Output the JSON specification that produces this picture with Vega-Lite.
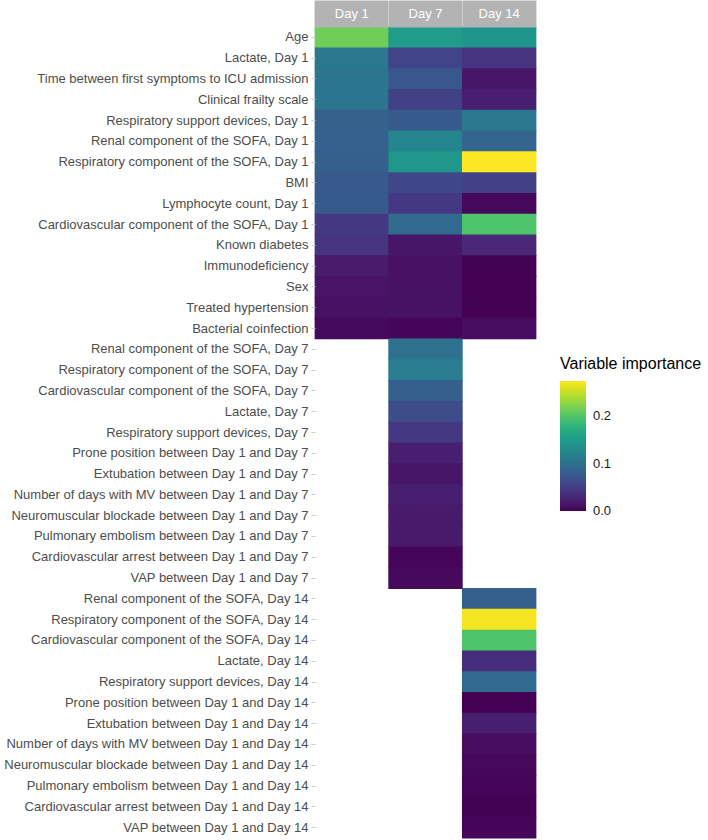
{
  "$schema": "https://vega.github.io/schema/vega-lite/v6.json",
  "width": 221,
  "height": 811,
  "autosize": {"type": "none"},
  "padding": {"left": 315, "top": 27, "right": 172, "bottom": 2},
  "config": {
    "view": {"stroke": null},
    "font": "Liberation Sans"
  },
  "data": {
    "values": [
      {"variable": "Age", "day": "Day 1", "importance": 0.215},
      {"variable": "Lactate, Day 1", "day": "Day 1", "importance": 0.11},
      {"variable": "Time between first symptoms to ICU admission", "day": "Day 1", "importance": 0.107},
      {"variable": "Clinical frailty scale", "day": "Day 1", "importance": 0.106},
      {"variable": "Respiratory support devices, Day 1", "day": "Day 1", "importance": 0.085},
      {"variable": "Renal component of the SOFA, Day 1", "day": "Day 1", "importance": 0.084},
      {"variable": "Respiratory component of the SOFA, Day 1", "day": "Day 1", "importance": 0.083},
      {"variable": "BMI", "day": "Day 1", "importance": 0.076},
      {"variable": "Lymphocyte count, Day 1", "day": "Day 1", "importance": 0.077},
      {"variable": "Cardiovascular component of the SOFA, Day 1", "day": "Day 1", "importance": 0.044},
      {"variable": "Known diabetes", "day": "Day 1", "importance": 0.041},
      {"variable": "Immunodeficiency", "day": "Day 1", "importance": 0.019},
      {"variable": "Sex", "day": "Day 1", "importance": 0.014},
      {"variable": "Treated hypertension", "day": "Day 1", "importance": 0.011},
      {"variable": "Bacterial coinfection", "day": "Day 1", "importance": 0.006},
      {"variable": "Age", "day": "Day 7", "importance": 0.151},
      {"variable": "Lactate, Day 1", "day": "Day 7", "importance": 0.055},
      {"variable": "Time between first symptoms to ICU admission", "day": "Day 7", "importance": 0.074},
      {"variable": "Clinical frailty scale", "day": "Day 7", "importance": 0.052},
      {"variable": "Respiratory support devices, Day 1", "day": "Day 7", "importance": 0.077},
      {"variable": "Renal component of the SOFA, Day 1", "day": "Day 7", "importance": 0.124},
      {"variable": "Respiratory component of the SOFA, Day 1", "day": "Day 7", "importance": 0.146},
      {"variable": "BMI", "day": "Day 7", "importance": 0.058},
      {"variable": "Lymphocyte count, Day 1", "day": "Day 7", "importance": 0.044},
      {"variable": "Cardiovascular component of the SOFA, Day 1", "day": "Day 7", "importance": 0.094},
      {"variable": "Known diabetes", "day": "Day 7", "importance": 0.015},
      {"variable": "Immunodeficiency", "day": "Day 7", "importance": 0.011},
      {"variable": "Sex", "day": "Day 7", "importance": 0.012},
      {"variable": "Treated hypertension", "day": "Day 7", "importance": 0.012},
      {"variable": "Bacterial coinfection", "day": "Day 7", "importance": 0.003},
      {"variable": "Age", "day": "Day 14", "importance": 0.143},
      {"variable": "Lactate, Day 1", "day": "Day 14", "importance": 0.041},
      {"variable": "Time between first symptoms to ICU admission", "day": "Day 14", "importance": 0.015},
      {"variable": "Clinical frailty scale", "day": "Day 14", "importance": 0.022},
      {"variable": "Respiratory support devices, Day 1", "day": "Day 14", "importance": 0.11},
      {"variable": "Renal component of the SOFA, Day 1", "day": "Day 14", "importance": 0.088},
      {"variable": "Respiratory component of the SOFA, Day 1", "day": "Day 14", "importance": 0.275},
      {"variable": "BMI", "day": "Day 14", "importance": 0.052},
      {"variable": "Lymphocyte count, Day 1", "day": "Day 14", "importance": 0.005},
      {"variable": "Cardiovascular component of the SOFA, Day 1", "day": "Day 14", "importance": 0.198},
      {"variable": "Known diabetes", "day": "Day 14", "importance": 0.03},
      {"variable": "Immunodeficiency", "day": "Day 14", "importance": 0.001},
      {"variable": "Sex", "day": "Day 14", "importance": 0.0},
      {"variable": "Treated hypertension", "day": "Day 14", "importance": 0.001},
      {"variable": "Bacterial coinfection", "day": "Day 14", "importance": 0.008},
      {"variable": "Renal component of the SOFA, Day 7", "day": "Day 7", "importance": 0.102},
      {"variable": "Respiratory component of the SOFA, Day 7", "day": "Day 7", "importance": 0.116},
      {"variable": "Cardiovascular component of the SOFA, Day 7", "day": "Day 7", "importance": 0.083},
      {"variable": "Lactate, Day 7", "day": "Day 7", "importance": 0.063},
      {"variable": "Respiratory support devices, Day 7", "day": "Day 7", "importance": 0.044},
      {"variable": "Prone position between Day 1 and Day 7", "day": "Day 7", "importance": 0.022},
      {"variable": "Extubation between Day 1 and Day 7", "day": "Day 7", "importance": 0.015},
      {"variable": "Number of days with MV between Day 1 and Day 7", "day": "Day 7", "importance": 0.022},
      {"variable": "Neuromuscular blockade between Day 1 and Day 7", "day": "Day 7", "importance": 0.018},
      {"variable": "Pulmonary embolism between Day 1 and Day 7", "day": "Day 7", "importance": 0.018},
      {"variable": "Cardiovascular arrest between Day 1 and Day 7", "day": "Day 7", "importance": 0.003},
      {"variable": "VAP between Day 1 and Day 7", "day": "Day 7", "importance": 0.006},
      {"variable": "Renal component of the SOFA, Day 14", "day": "Day 14", "importance": 0.083},
      {"variable": "Respiratory component of the SOFA, Day 14", "day": "Day 14", "importance": 0.272},
      {"variable": "Cardiovascular component of the SOFA, Day 14", "day": "Day 14", "importance": 0.198},
      {"variable": "Lactate, Day 14", "day": "Day 14", "importance": 0.036},
      {"variable": "Respiratory support devices, Day 14", "day": "Day 14", "importance": 0.094},
      {"variable": "Prone position between Day 1 and Day 14", "day": "Day 14", "importance": 0.0},
      {"variable": "Extubation between Day 1 and Day 14", "day": "Day 14", "importance": 0.022},
      {"variable": "Number of days with MV between Day 1 and Day 14", "day": "Day 14", "importance": 0.008},
      {"variable": "Neuromuscular blockade between Day 1 and Day 14", "day": "Day 14", "importance": 0.005},
      {"variable": "Pulmonary embolism between Day 1 and Day 14", "day": "Day 14", "importance": 0.003},
      {"variable": "Cardiovascular arrest between Day 1 and Day 14", "day": "Day 14", "importance": 0.001},
      {"variable": "VAP between Day 1 and Day 14", "day": "Day 14", "importance": 0.003}
    ]
  },
  "mark": {"type": "rect", "width": {"band": 1.01}, "height": {"band": 1.04}},
  "encoding": {
    "x": {
      "field": "day",
      "type": "nominal",
      "sort": ["Day 1", "Day 7", "Day 14"],
      "scale": {"padding": 0},
      "axis": {
        "orient": "top",
        "title": null,
        "domain": false,
        "ticks": true,
        "tickSize": 27,
        "tickWidth": 73.8,
        "tickColor": "#B3B3B3",
        "tickOpacity": 1,
        "tickCap": "butt",
        "labelPadding": -13.5,
        "labelBaseline": "middle",
        "labelAngle": 0,
        "labelColor": "#FFFFFF",
        "labelFontSize": 13,
        "labelFont": "Liberation Sans"
      }
    },
    "y": {
      "field": "variable",
      "type": "nominal",
      "sort": [
        "Age",
        "Lactate, Day 1",
        "Time between first symptoms to ICU admission",
        "Clinical frailty scale",
        "Respiratory support devices, Day 1",
        "Renal component of the SOFA, Day 1",
        "Respiratory component of the SOFA, Day 1",
        "BMI",
        "Lymphocyte count, Day 1",
        "Cardiovascular component of the SOFA, Day 1",
        "Known diabetes",
        "Immunodeficiency",
        "Sex",
        "Treated hypertension",
        "Bacterial coinfection",
        "Renal component of the SOFA, Day 7",
        "Respiratory component of the SOFA, Day 7",
        "Cardiovascular component of the SOFA, Day 7",
        "Lactate, Day 7",
        "Respiratory support devices, Day 7",
        "Prone position between Day 1 and Day 7",
        "Extubation between Day 1 and Day 7",
        "Number of days with MV between Day 1 and Day 7",
        "Neuromuscular blockade between Day 1 and Day 7",
        "Pulmonary embolism between Day 1 and Day 7",
        "Cardiovascular arrest between Day 1 and Day 7",
        "VAP between Day 1 and Day 7",
        "Renal component of the SOFA, Day 14",
        "Respiratory component of the SOFA, Day 14",
        "Cardiovascular component of the SOFA, Day 14",
        "Lactate, Day 14",
        "Respiratory support devices, Day 14",
        "Prone position between Day 1 and Day 14",
        "Extubation between Day 1 and Day 14",
        "Number of days with MV between Day 1 and Day 14",
        "Neuromuscular blockade between Day 1 and Day 14",
        "Pulmonary embolism between Day 1 and Day 14",
        "Cardiovascular arrest between Day 1 and Day 14",
        "VAP between Day 1 and Day 14"
      ],
      "scale": {"padding": 0},
      "axis": {
        "title": null,
        "domain": false,
        "grid": false,
        "tickColor": "#CCCCCC",
        "tickSize": 4,
        "labelPadding": 3,
        "labelColor": "#4D4D4D",
        "labelFontSize": 13,
        "labelFont": "Liberation Sans",
        "labelLimit": 400
      }
    },
    "color": {
      "field": "importance",
      "type": "quantitative",
      "scale": {"scheme": "viridis", "domain": [0, 0.275]},
      "legend": {
        "title": "Variable importance",
        "orient": "none",
        "legendX": 245,
        "legendY": 329,
        "direction": "vertical",
        "gradientLength": 130,
        "gradientThickness": 26,
        "gradientStrokeWidth": 0,
        "values": [0, 0.1, 0.2],
        "format": ".1f",
        "titleFontSize": 16,
        "titleFontWeight": "normal",
        "titleColor": "#000000",
        "titleFont": "Liberation Sans",
        "titlePadding": 9,
        "labelFontSize": 13,
        "labelColor": "#1A1A1A",
        "labelFont": "Liberation Sans",
        "labelOffset": 7,
        "encode": {
          "labels": {"update": {"baseline": {"value": "middle"}}}
        }
      }
    }
  }
}
